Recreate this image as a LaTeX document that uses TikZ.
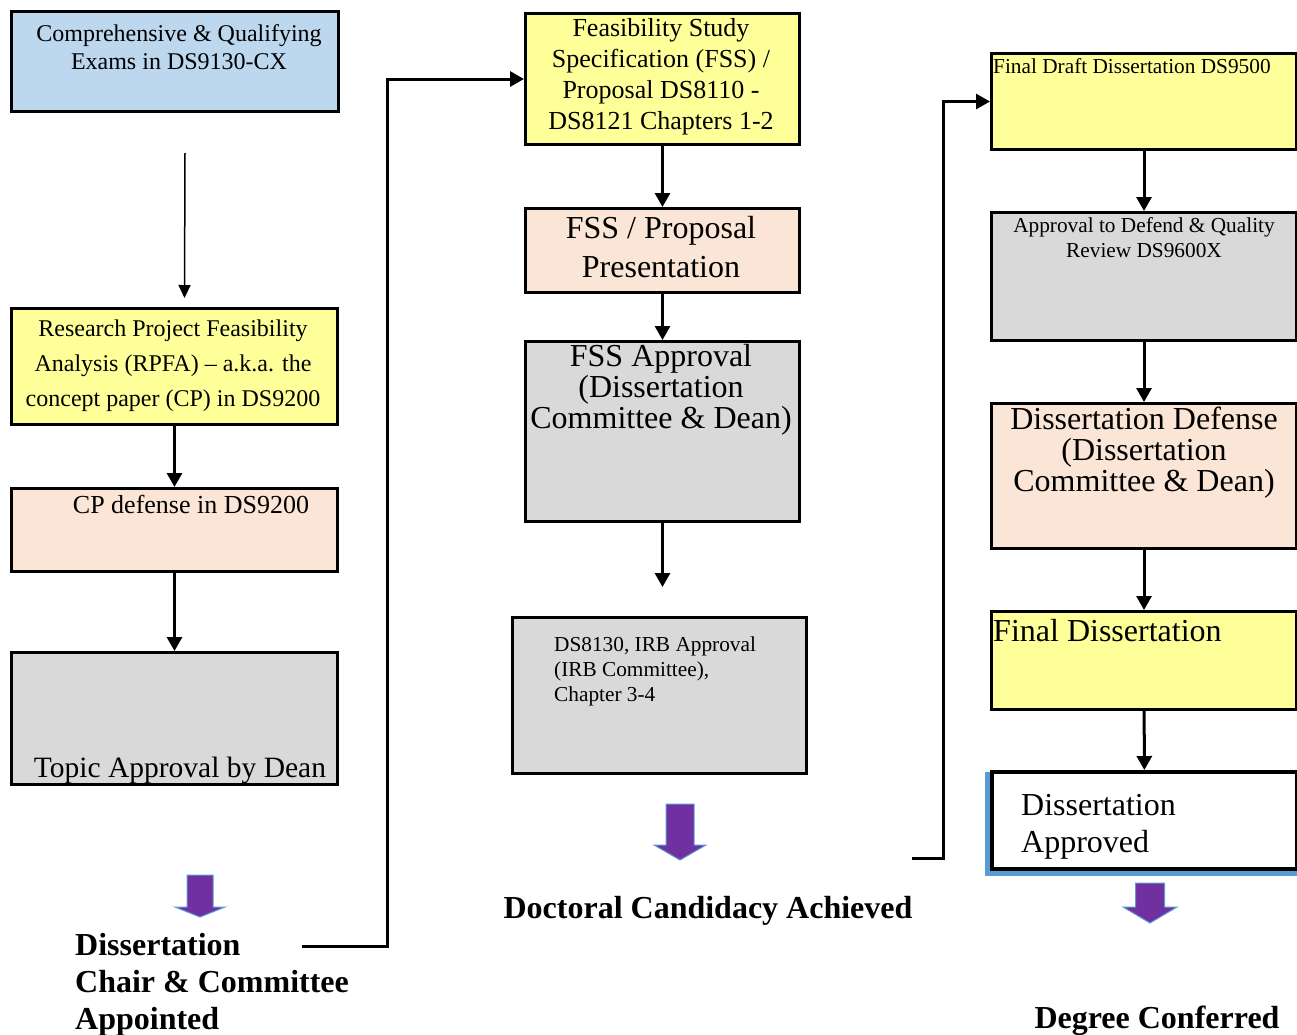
\documentclass[tikz,border=0pt]{standalone}
\usepackage{fontspec}
\setmainfont{Liberation Serif}
\usetikzlibrary{arrows.meta}
\definecolor{boxblue}{HTML}{BDD7EE}
\definecolor{boxyellow}{HTML}{FFFF99}
\definecolor{boxpeach}{HTML}{FBE5D6}
\definecolor{boxgray}{HTML}{D9D9D9}
\definecolor{arrowpurple}{HTML}{7030A0}
\definecolor{edgeblue}{HTML}{5B9BD5}
\tikzstyle{arrow} = [line width=3pt,-{Triangle[width=15pt,length=14pt]}]
\tikzstyle{thinarrow} = [line width=1.5pt,-{Triangle[width=12pt,length=13pt]}]
% big purple block arrow: x, shaft half, head half, top, neck, tip
\newcommand{\bigdown}[6]{\filldraw[fill=arrowpurple, draw=edgeblue, line width=1pt]
  (#1-#2,#4) -- (#1+#2,#4) -- (#1+#2,#5) -- (#1+#3,#5) -- (#1,#6) -- (#1-#3,#5) -- (#1-#2,#5) -- cycle;}
\begin{document}
\begin{tikzpicture}[x=1pt,y=-1pt]
   \tikzset{block/.style={draw, line width=3pt, rectangle, anchor=north west, inner sep=0pt},
   txt/.style={inner sep=0pt, align=center, anchor=north},
   ltxt/.style={inner sep=0pt, align=left, anchor=north west},
   bigtxt/.style={font=\fontsize{32}{31}\selectfont},
   smalltxt/.style={font=\fontsize{21.3}{25}\selectfont},
   caption/.style={inner sep=0pt, font=\fontsize{32}{37}\selectfont\bfseries},
   }
 \useasboundingbox (0,0) rectangle (1297,1034);

 % left column
 \node [block, fill=boxblue, minimum width=327pt, minimum height=100pt] (exams) at (10,10) {};
 \node [txt, font=\fontsize{24}{28}\selectfont] (examstxt) at (179,24) {Comprehensive \& Qualifying\\Exams in DS9130-CX};
 \node [block, fill=boxyellow, minimum width=326pt, minimum height=116pt] (rpfa) at (10,307) {};
 \node [txt, font=\fontsize{24}{35}\selectfont] (rpfatxt) at (173,320) {Research Project Feasibility\\Analysis (RPFA) -- a.k.a. the\\concept paper (CP) in DS9200};
 \node [block, fill=boxpeach, minimum width=326pt, minimum height=83pt] (cpdef) at (10,487) {};
 \node [txt, font=\fontsize{26}{28}\selectfont] (cpdeftxt) at (191,495) {CP defense in DS9200};
 \node [block, fill=boxgray, minimum width=326pt, minimum height=132pt] (topic) at (10,651) {};
 \node [txt, font=\fontsize{29.5}{30}\selectfont] (topictxt) at (180,757) {Topic Approval by Dean};
 \node [caption, align=left, anchor=north west] (chair) at (75,933) {Dissertation\\Chair \& Committee\\Appointed};

 % middle column
 \node [block, fill=boxyellow, minimum width=274pt, minimum height=131pt] (fss) at (524,12) {};
 \node [txt, font=\fontsize{26}{31}\selectfont] (fsstxt) at (661,18) {Feasibility Study\\Specification (FSS) /\\Proposal DS8110 -\\DS8121 Chapters 1-2};
 \node [block, fill=boxpeach, minimum width=274pt, minimum height=84pt] (present) at (524,207) {};
 \node [txt, font=\fontsize{32}{39}\selectfont] (presenttxt) at (661,216) {FSS / Proposal\\Presentation};
 \node [block, fill=boxgray, minimum width=274pt, minimum height=180pt] (fssappr) at (524,340) {};
 \node [txt, bigtxt] (fssapprtxt) at (661,344) {FSS Approval\\(Dissertation\\Committee \& Dean)};
 \node [block, fill=boxgray, minimum width=294pt, minimum height=156pt] (irb) at (511,616) {};
 \node [ltxt, smalltxt] (irbtxt) at (554,637) {DS8130, IRB Approval\\(IRB Committee),\\Chapter 3-4};
 \node [caption, anchor=north] (candidacy) at (708,896) {Doctoral Candidacy Achieved};

 % right column
 \node [block, fill=boxyellow, minimum width=305pt, minimum height=96pt] (draft) at (990,52) {};
 \node [ltxt, smalltxt] (drafttxt) at (993,58) {Final Draft Dissertation DS9500};
 \node [block, fill=boxgray, minimum width=305pt, minimum height=128pt] (review) at (990,211) {};
 \node [txt, smalltxt] (reviewtxt) at (1144,217) {Approval to Defend \& Quality\\Review DS9600X};
 \node [block, fill=boxpeach, minimum width=305pt, minimum height=145pt] (defense) at (990,402) {};
 \node [txt, bigtxt] (defensetxt) at (1144,407) {Dissertation Defense\\(Dissertation\\Committee \& Dean)};
 \node [block, fill=boxyellow, minimum width=305pt, minimum height=98pt] (final) at (990,610) {};
 \node [ltxt, bigtxt] (finaltxt) at (993,619) {Final Dissertation};
 \fill [edgeblue] (985,772) rectangle (1297,876);
 \node [block, fill=white, line width=4pt, minimum width=305pt, minimum height=97pt] (approved) at (990,770) {};
 \node [ltxt, font=\fontsize{32}{37}\selectfont] (approvedtxt) at (1021,794) {Dissertation\\Approved};
 \node [caption, anchor=north] (degree) at (1157,1006) {Degree Conferred};

 \coordinate (chairend) at (302,946);
 \coordinate (candend) at (912,858);

 \draw [thinarrow] ([xshift=10pt,yshift=-40pt]exams.south) -- ([xshift=10pt,yshift=9pt]rpfa.north);
 \draw [arrow] (rpfa) -- (cpdef);
 \draw [arrow] (cpdef) -- (topic);
 \draw [arrow] (chairend) -- (387,946) |- (fss.west);
 \draw [arrow] (fss) -- (present);
 \draw [arrow] (present) -- (fssappr);
 \draw [arrow] (fssappr.south) -- ++(0,64);
 \draw [arrow] (candend) -- (943,858) |- (draft.west);
 \draw [arrow] (draft) -- (review);
 \draw [arrow] (review) -- (defense);
 \draw [arrow] (defense) -- (final);
 \draw [arrow] (final) -- (approved);

 \bigdown{200}{13}{25}{875}{907}{917}
 \bigdown{680}{14}{26}{804}{845}{860}
 \bigdown{1150}{14.5}{27}{883}{907}{923}
\end{tikzpicture}
\end{document}
